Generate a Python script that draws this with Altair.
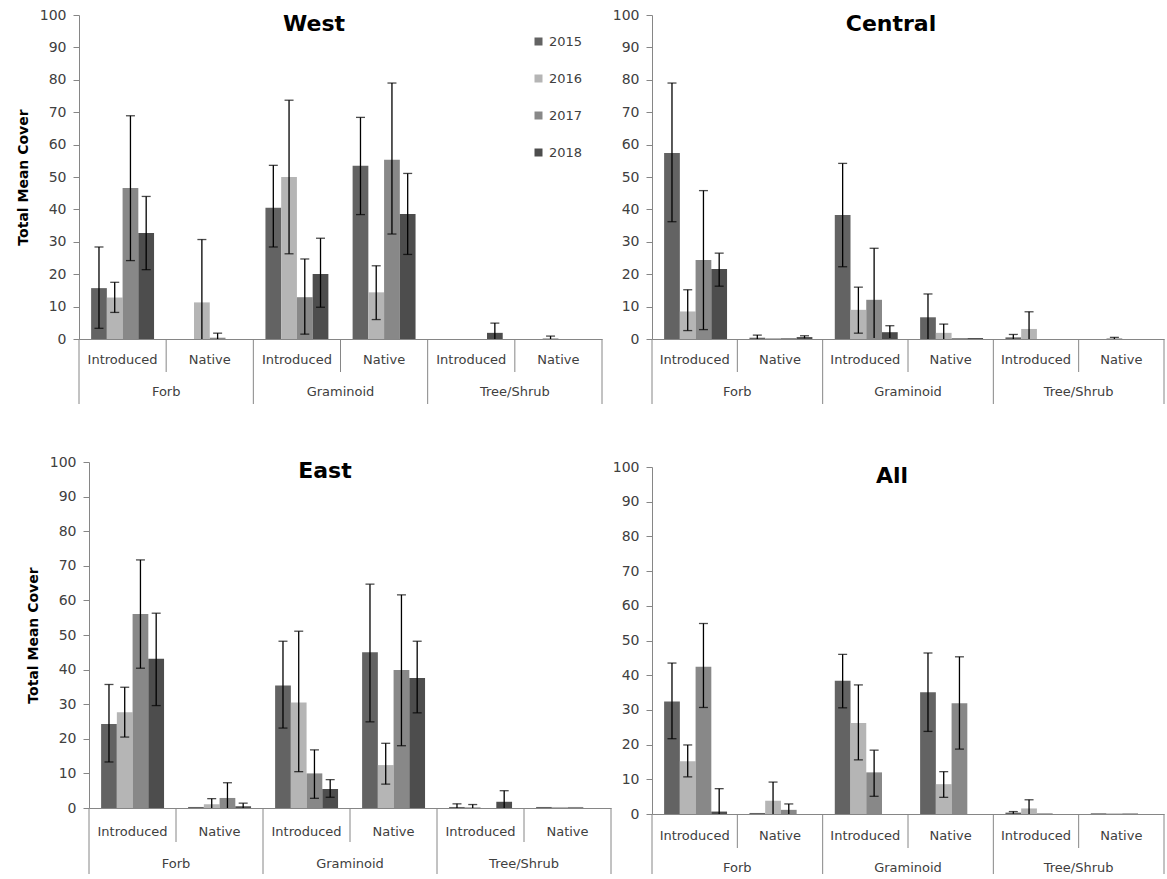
import altair as alt
import pandas as pd

# ---------------- data ----------------
years = ["2015", "2016", "2017", "2018"]
growth = ["Forb", "Forb", "Graminoid", "Graminoid", "Tree/Shrub", "Tree/Shrub"]
origin = ["Introduced", "Native", "Introduced", "Native", "Introduced", "Native"]
categories = ["Forb", "Graminoid", "Tree/Shrub"]
colors = ["#636363", "#b5b5b5", "#888888", "#4d4d4d"]

# rows = years 2015..2018, columns = the six growth/origin groups
west_mean = [
    [15.7, 0.0, 40.5, 53.5, 0.0, 0.0],
    [12.8, 11.3, 50.0, 14.4, 0.0, 0.3],
    [46.6, 0.4, 12.9, 55.3, 0.0, 0.0],
    [32.7, 0.0, 20.1, 38.6, 1.9, 0.0],
]
west_hi = [
    [28.4, None, 53.6, 68.4, None, None],
    [17.5, 30.7, 73.7, 22.6, None, 0.9],
    [68.9, 1.8, 24.7, 79.0, None, None],
    [44.0, None, 31.1, 51.1, 4.9, None],
]
west_lo = [
    [3.3, None, 28.4, 38.4, None, None],
    [8.2, 0.0, 26.3, 6.0, None, 0.0],
    [24.2, 0.0, 1.5, 32.4, None, None],
    [21.4, None, 9.8, 26.1, 0.0, None],
]

central_mean = [
    [57.4, 0.4, 38.3, 6.7, 0.5, 0.0],
    [8.5, 0.3, 9.0, 1.9, 3.1, 0.3],
    [24.4, 0.3, 12.1, 0.3, 0.0, 0.0],
    [21.6, 0.6, 2.1, 0.3, 0.0, 0.0],
]
central_hi = [
    [79.0, 1.2, 54.2, 13.9, 1.4, None],
    [15.2, None, 16.0, 4.6, 8.4, 0.5],
    [45.8, None, 28.0, None, None, None],
    [26.5, 1.0, 4.1, None, None, None],
]
central_lo = [
    [36.2, 0.0, 22.3, 0.0, 0.0, None],
    [2.6, None, 1.8, 0.0, 0.0, 0.0],
    [2.9, None, 0.3, None, None, None],
    [16.3, 0.2, 0.3, None, None, None],
]

east_mean = [
    [24.3, 0.3, 35.4, 45.0, 0.3, 0.3],
    [27.7, 1.1, 30.5, 12.4, 0.3, 0.3],
    [56.1, 2.9, 10.0, 39.9, 0.0, 0.3],
    [43.1, 0.5, 5.5, 37.6, 1.8, 0.0],
]
east_hi = [
    [35.7, None, 48.2, 64.7, 1.2, None],
    [34.9, 2.7, 51.1, 18.7, 1.0, None],
    [71.7, 7.3, 16.8, 61.6, None, None],
    [56.3, 1.4, 8.2, 48.2, 5.0, None],
]
east_lo = [
    [13.3, None, 23.1, 24.9, 0.0, None],
    [20.5, 0.0, 10.5, 6.9, 0.0, None],
    [40.4, 0.0, 2.8, 18.0, None, None],
    [29.6, 0.0, 3.1, 27.5, 0.0, None],
]

all_mean = [
    [32.4, 0.3, 38.4, 35.1, 0.4, 0.2],
    [15.2, 3.8, 26.2, 8.6, 1.6, 0.2],
    [42.4, 1.2, 12.0, 31.9, 0.2, 0.2],
    [0.7, 0.0, 0.0, 0.0, 0.0, 0.0],
]
all_hi = [
    [43.5, None, 46.0, 46.4, 0.7, None],
    [19.9, 9.2, 37.2, 12.2, 4.1, None],
    [54.9, 2.9, 18.4, 45.3, None, None],
    [7.3, None, None, None, None, None],
]
all_lo = [
    [21.7, None, 30.6, 23.8, 0.1, None],
    [10.7, 0.0, 15.6, 4.8, 0.0, None],
    [30.7, 0.0, 5.1, 18.7, None, None],
    [0.0, None, None, None, None, None],
]

y_ticks = [0, 10, 20, 30, 40, 50, 60, 70, 80, 90, 100]

# ---------------- helpers ----------------
keys = [f"{g}|{o}" for g, o in zip(growth, origin)]
AX = "#868686"
LBL = "#404040"
FONT = "DejaVu Sans"


def make_panel(name, mean, hi, lo, W, H, xstart, ytop, ytitle, ax_offset,
               tx, ty, lab_dy, cat_dy, sep_short, sep_long, legend):
    rows = []
    for yi, yr in enumerate(years):
        for ki, k in enumerate(keys):
            rows.append(dict(key=k, year=yr, value=mean[yi][ki],
                             hi=hi[yi][ki], lo=lo[yi][ki]))
    df = pd.DataFrame(rows)
    err = df.dropna(subset=["hi"]).copy()
    err_lo = err[err["lo"] > 0.3]

    xscale = alt.Scale(domain=keys, range=[xstart, W], paddingInner=0, paddingOuter=0)
    xaxis = alt.Axis(labels=False, ticks=False, title=None, grid=False,
                     domainColor=AX, domainWidth=1)

    def X(field, bp=None):
        kw = dict(scale=xscale, axis=xaxis, title=None)
        if bp is not None:
            kw["bandPosition"] = bp
        return alt.X(f"{field}:N", **kw)

    xoff = alt.XOffset("year:N", scale=alt.Scale(domain=years, paddingInner=0, paddingOuter=0.77))

    yscale = alt.Scale(domain=[0, 100], range=[H, ytop], nice=False)
    ax_kw = dict(values=y_ticks, grid=False, domainColor=AX, tickColor=AX,
                 tickSize=6, labelPadding=7, labelColor=LBL, labelFont=FONT,
                 labelFontSize=14, offset=ax_offset)
    if ytitle:
        ax_kw.update(title=ytitle, titleFont=FONT, titleFontSize=14,
                     titleFontWeight="bold", titleColor="black", titlePadding=9)
    else:
        ax_kw.update(title=None)
    yaxis = alt.Axis(**ax_kw)

    def Y(field):
        return alt.Y(f"{field}:Q", scale=yscale, axis=yaxis)

    color_kw = dict(scale=alt.Scale(domain=years, range=colors))
    color_kw["legend"] = legend
    bars = alt.Chart(df).mark_bar(strokeWidth=0).encode(
        x=X("key"), xOffset=xoff, y=Y("value"),
        color=alt.Color("year:N", **color_kw),
    )
    rule = alt.Chart(err).mark_rule(color="black", strokeWidth=1.3).encode(
        x=X("key"), xOffset=xoff, y=Y("lo"), y2=alt.Y2("hi"))
    cap_hi = alt.Chart(err).mark_tick(color="black", thickness=1.3, size=9,
                                      orient="horizontal").encode(
        x=X("key"), xOffset=xoff, y=Y("hi"))
    cap_lo = alt.Chart(err_lo).mark_tick(color="black", thickness=1.3, size=9,
                                         orient="horizontal").encode(
        x=X("key"), xOffset=xoff, y=Y("lo"))

    sep_df_short = pd.DataFrame({"key": [keys[1], keys[3], keys[5]]})
    sep_df_long = pd.DataFrame({"key": [keys[0], keys[2], keys[4]]})
    sep_df_end = pd.DataFrame({"key": [keys[5]]})
    s_short = alt.Chart(sep_df_short).mark_rule(color=AX, strokeWidth=1).encode(
        x=X("key", 0), y=alt.value(H), y2=alt.value(H + sep_short))
    s_long = alt.Chart(sep_df_long).mark_rule(color=AX, strokeWidth=1).encode(
        x=X("key", 0), y=alt.value(H), y2=alt.value(H + sep_long))
    s_end = alt.Chart(sep_df_end).mark_rule(color=AX, strokeWidth=1).encode(
        x=X("key", 1), y=alt.value(H), y2=alt.value(H + sep_long))

    lab_df = pd.DataFrame({"key": keys, "sub": origin})
    labels = alt.Chart(lab_df).mark_text(font=FONT, fontSize=13, color=LBL,
                                         baseline="middle", align="center").encode(
        x=X("key"), y=alt.value(H + lab_dy), text="sub:N")
    cat_df = pd.DataFrame({"anchor": [keys[1], keys[3], keys[5]], "cat": categories})
    cats = alt.Chart(cat_df).mark_text(font=FONT, fontSize=13, color=LBL,
                                       baseline="middle", align="center").encode(
        x=X("anchor", 0), y=alt.value(H + cat_dy), text="cat:N")

    title = alt.Chart(pd.DataFrame({"t": [name]})).mark_text(
        font=FONT, fontSize=22, fontWeight="bold", color="black",
        align="center", baseline="middle").encode(
        x=alt.value(tx), y=alt.value(ty), text="t:N")

    return alt.layer(bars, rule, cap_hi, cap_lo, s_short, s_long, s_end,
                     labels, cats, title).properties(width=W, height=H)


legend = alt.Legend(orient="none", legendX=453, legendY=20, title=None,
                    symbolType="square", symbolSize=64, symbolStrokeWidth=0,
                    labelFont=FONT, labelFontSize=13, labelColor=LBL,
                    rowPadding=23, labelOffset=4, padding=0)

west = make_panel("West", west_mean, west_hi, west_lo, 523, 324, 0, 0,
                  "Total Mean Cover", 0, 235, 9, 21, 53, 33, 65, legend)
central = make_panel("Central", central_mean, central_hi, central_lo, 512, 324, 0, 0,
                     "", 0, 239, 9, 21, 53, 33, 65, None)
east = make_panel("East", east_mean, east_hi, east_lo, 532, 346, 10, 0,
                  "Total Mean Cover", -10, 246, 9, 24, 56, 34, 66, None)
allp = make_panel("All", all_mean, all_hi, all_lo, 512, 352, 0, 5,
                  "", 0, 240, 14, 22, 54, 34, 60, None)

chart = alt.concat(west, central, east, allp, columns=2,
                   spacing={"row": 123, "column": 41}, bounds="flush").properties(
    padding={"left": 15, "top": 7, "right": 0, "bottom": 0},
    background="white",
).configure(font=FONT).configure_view(stroke="transparent")

chart.save("out.html", embed_options={"renderer": "svg", "actions": False})
